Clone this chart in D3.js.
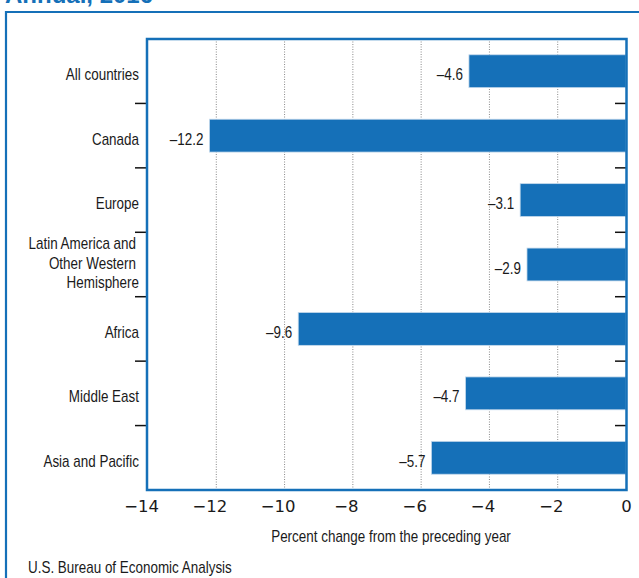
<!DOCTYPE html>
<html>
<head>
<meta charset="utf-8">
<script src="https://cdn.jsdelivr.net/npm/d3@7"></script>
<style>
  html, body { margin: 0; padding: 0; background: #fff; }
  svg { display: block; }
  .lab { font-family: "Liberation Sans", Arial, sans-serif; font-size: 16px; fill: #1a1a1a; }
</style>
</head>
<body>
<svg id="chart" width="639" height="578"></svg>
<script>
const title = "Annual, 2016";
const categories = [
  ["All countries"],
  ["Canada"],
  ["Europe"],
  ["Latin America and", "Other Western", "Hemisphere"],
  ["Africa"],
  ["Middle East"],
  ["Asia and Pacific"]
];
const values = [-4.6, -12.2, -3.1, -2.9, -9.6, -4.7, -5.7];
const xTicks = [-14, -12, -10, -8, -6, -4, -2, 0];
const xTitle = "Percent change from the preceding year";
const source = "U.S. Bureau of Economic Analysis";

const blue = "#1570b8";
const SX = 0.84; // horizontal condensing to mimic a narrow typeface
const svg = d3.select("#chart");

const plot = { left: 148, right: 626, top: 39, bottom: 490 };

const x = d3.scaleLinear().domain([-14, 0]).range([plot.left, plot.right]);
const keys = categories.map((c, i) => i);
const y = d3.scaleBand().domain(keys).range([plot.top, plot.bottom])
  .paddingInner(0.49).paddingOuter(0.245);
const step = y.step();

function narrowText(parent, tx, ty, str, anchor) {
  return parent.append("text").attr("class", "lab")
    .attr("transform", `translate(${tx},${ty}) scale(${SX},1)`)
    .attr("text-anchor", anchor || "start")
    .text(str);
}

// Title (clipped at top as in the original)
svg.append("text")
  .attr("x", 5).attr("y", 3)
  .attr("font-family", "Liberation Sans, Arial, sans-serif")
  .attr("font-weight", "bold").attr("font-size", 24)
  .attr("fill", blue)
  .text(title);

// Outer frame (left and top)
svg.append("path")
  .attr("d", `M6,600 L6,12 L650,12`)
  .attr("fill", "none").attr("stroke", blue).attr("stroke-width", 2.2);

// Gridlines
svg.append("g").selectAll("line")
  .data(xTicks.filter(t => t > -14 && t < 0))
  .join("line")
  .attr("x1", d => x(d)).attr("x2", d => x(d))
  .attr("y1", plot.top).attr("y2", plot.bottom)
  .attr("stroke", "#8a8a8a").attr("stroke-width", 1)
  .attr("stroke-dasharray", "1,1.5");

// Bars
svg.append("g").selectAll("rect")
  .data(values)
  .join("rect")
  .attr("x", d => x(d))
  .attr("width", d => x(0) - x(d))
  .attr("y", (d, i) => y(i))
  .attr("height", y.bandwidth())
  .attr("fill", blue)
  .attr("stroke", "#c4d9ec").attr("stroke-width", 0.8);

// Value labels
const valG = svg.append("g");
values.forEach((d, i) => {
  narrowText(valG, x(d) - 6, y(i) + y.bandwidth() / 2 + 9,
    "\u2013" + Math.abs(d).toFixed(1), "end");
});

// Category boundary ticks (left outside, right inside)
const bounds = d3.range(1, categories.length).map(k => plot.top + k * step);
svg.append("g").selectAll("line")
  .data(bounds)
  .join("line")
  .attr("x1", plot.left - 13).attr("x2", plot.left)
  .attr("y1", d => d).attr("y2", d => d)
  .attr("stroke", "#111").attr("stroke-width", 1.5);
svg.append("g").selectAll("line")
  .data(bounds)
  .join("line")
  .attr("x1", plot.right - 11).attr("x2", plot.right)
  .attr("y1", d => d).attr("y2", d => d)
  .attr("stroke", "#111").attr("stroke-width", 1.5);

// Category labels
const catG = svg.append("g");
categories.forEach((lines, i) => {
  const cy = y(i) + y.bandwidth() / 2;
  if (lines.length === 1) {
    narrowText(catG, 139, cy + 9, lines[0], "end");
  } else {
    lines.forEach((ln, j) => {
      narrowText(catG, j === lines.length - 1 ? 139 : 136,
        cy + 4.2 + (j - 1) * 19.4, ln, "end");
    });
  }
});

// Plot frame
svg.append("rect")
  .attr("x", plot.left - 1).attr("y", plot.top)
  .attr("width", plot.right - plot.left + 1.5).attr("height", plot.bottom - plot.top)
  .attr("fill", "none").attr("stroke", blue).attr("stroke-width", 2.5);

// X axis tick labels (digits centred on the tick, minus sign hanging to the left)
const xAxis = d3.axisBottom(x).tickValues(xTicks).tickSize(0).tickPadding(0)
  .tickFormat(d => d < 0 ? "\u2212" + Math.abs(d) : String(d));
const gx = svg.append("g").attr("transform", `translate(0,${plot.bottom})`).call(xAxis);
gx.select(".domain").remove();
gx.selectAll("text")
  .attr("fill", "#1a1a1a")
  .attr("dy", null)
  .attr("y", 22)
  .style("font-family", "DejaVu Sans, sans-serif")
  .style("font-size", "16.5px");
gx.selectAll("text").each(function(d) {
  if (d < 0) {
    const full = this.getComputedTextLength();
    const tmp = gx.append("text")
      .style("font-family", "DejaVu Sans, sans-serif")
      .style("font-size", "16.5px")
      .text(String(Math.abs(d)));
    const digits = tmp.node().getComputedTextLength();
    tmp.remove();
    d3.select(this).attr("dx", -(full - digits) / 2);
  }
});

// Axis title
narrowText(svg, 391, 541.5, xTitle, "middle");

// Source
narrowText(svg, 28, 572.5, source, "start");
</script>
</body>
</html>
